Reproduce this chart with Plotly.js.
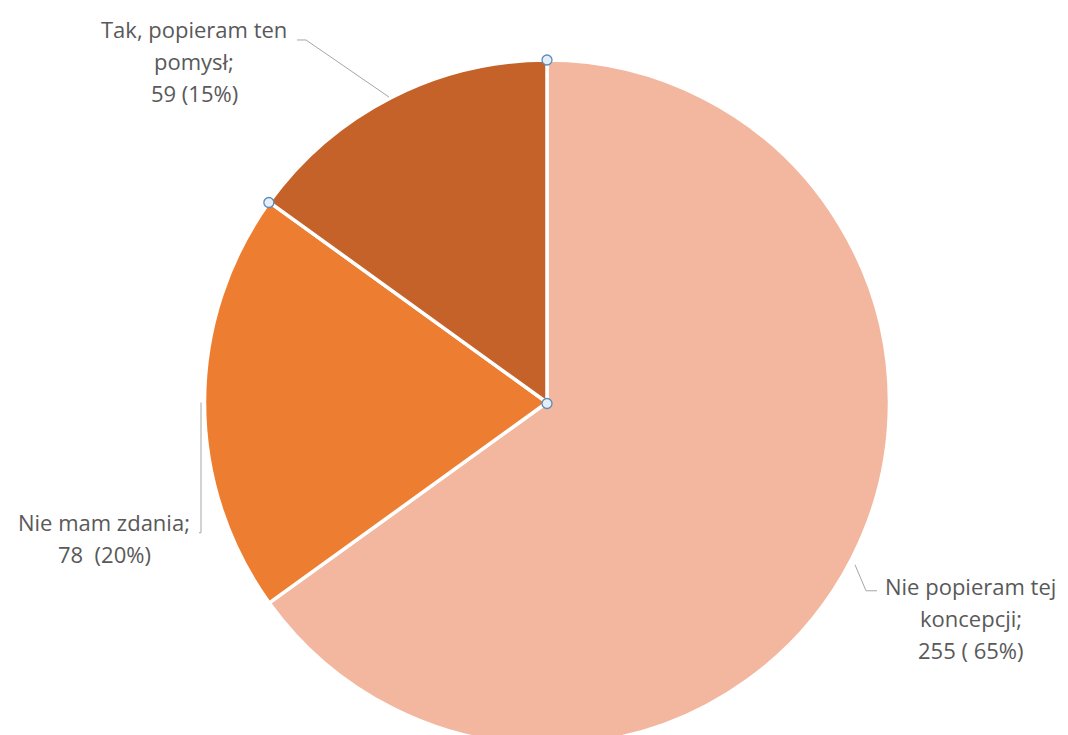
<!DOCTYPE html>
<html>
<head>
<meta charset="utf-8">
<script src="https://cdn.plot.ly/plotly-3.0.1.min.js"></script>
<style>
html,body{margin:0;padding:0;overflow:hidden;background:#fff;}
#chart{width:1068px;height:745px;}
</style>
</head>
<body>
<div id="chart"></div>
<script>
// Data
var categories = ['Nie popieram tej koncepcji', 'Nie mam zdania', 'Tak, popieram ten pomysł'];
var values = [255, 78, 59];
var percents = ['65%', '20%', '15%'];
var labelLines = [
  ['Nie popieram tej', 'koncepcji;', '255 ( 65%)'],
  ['Nie mam zdania;', '78  (20%)'],
  ['Tak, popieram ten', 'pomysł;', '59 (15%)']
];
var colors = ['#F3B7A0', '#ED7D31', '#C5622A'];

var W = 1068, H = 745, T = 61;
var R = 343, CX = 547, CY = T + R;
function px(x){ return x / W; }
function py(y){ return 1 - (y - T) / (H - T); }

// label placement (px): center x, first line y
var labelPos = [
  {x: 971, y: 586},
  {x: 104, y: 522},
  {x: 194, y: 30}
];
var lineGap = 32;
var textFont = {family: 'Open Sans, sans-serif', size: 22, color: '#595959'};

var annotations = [];
labelLines.forEach(function(lines, i){
  lines.forEach(function(t, j){
    annotations.push({
      xref: 'paper', yref: 'paper',
      x: px(labelPos[i].x), y: py(labelPos[i].y + j * lineGap),
      xanchor: 'center', yanchor: 'middle',
      text: t, showarrow: false, font: textFont
    });
  });
});

// leader lines
var leaderColor = '#A6A6A6';
var leaders = [
  [[855, 565], [866, 591], [877, 591]],
  [[201, 403], [201, 533], [199, 533]],
  [[297, 41], [306, 41], [389, 98]]
];
var shapes = leaders.map(function(pts){
  var d = pts.map(function(p, k){ return (k ? 'L' : 'M') + px(p[0]) + ',' + py(p[1]); }).join(' ');
  return {type: 'path', xref: 'paper', yref: 'paper', path: d, line: {color: leaderColor, width: 1}};
});

// selection handles at slice vertices (computed from values)
var total = values.reduce(function(a,b){return a+b;}, 0);
var handlePts = [[CX, CY]];
[0, values[0] + values[1]].forEach(function(c){
  var th = 2 * Math.PI * c / total;
  handlePts.push([CX + R * Math.sin(th), CY - R * Math.cos(th)]);
});
handlePts.forEach(function(p){
  shapes.push({
    type: 'circle', xref: 'paper', yref: 'paper',
    xsizemode: 'pixel', ysizemode: 'pixel',
    xanchor: px(p[0]), yanchor: py(p[1]),
    x0: -5, x1: 5, y0: -5, y1: 5,
    fillcolor: '#E4EFF9', line: {color: '#5C8CB6', width: 1.3}
  });
});

var trace = {
  type: 'pie',
  labels: categories,
  values: values,
  sort: false,
  direction: 'clockwise',
  rotation: 0,
  textinfo: 'none',
  hoverinfo: 'label+value+percent',
  marker: {colors: colors, line: {color: '#FFFFFF', width: 3.5}},
  domain: {x: [px(CX - R), px(CX + R)], y: [0, 1]},
  showlegend: false
};

var layout = {
  width: W, height: H,
  margin: {l: 0, r: 0, t: T - 1, b: 0, pad: 0},
  paper_bgcolor: '#FFFFFF',
  plot_bgcolor: '#FFFFFF',
  showlegend: false,
  annotations: annotations,
  shapes: shapes
};

Plotly.newPlot('chart', [trace], layout, {displayModeBar: false, staticPlot: true});
</script>
</body>
</html>
